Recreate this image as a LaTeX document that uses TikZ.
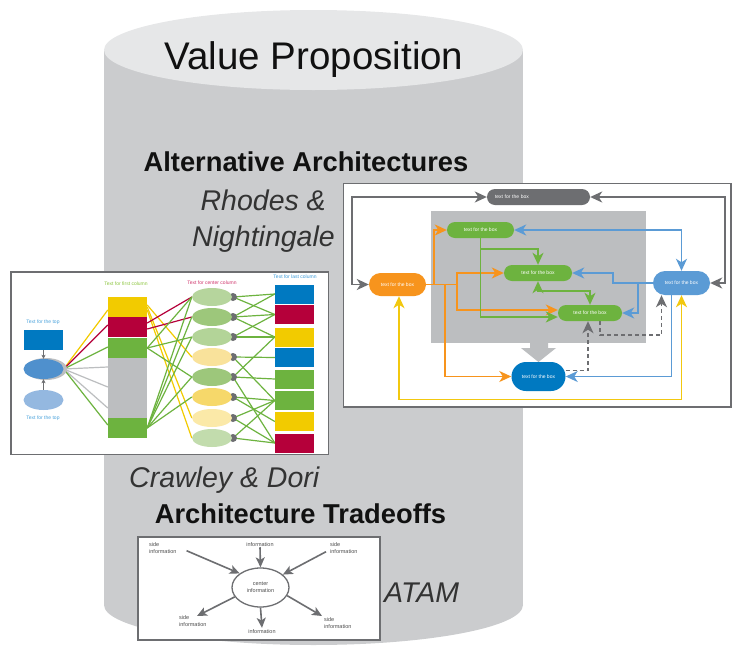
\documentclass[tikz,border=0pt]{standalone}
\usepackage{fontspec}
\setmainfont{Liberation Sans}
\usetikzlibrary{arrows.meta,shapes.geometric}

% cylinder
\definecolor{cylside}{HTML}{CBCCCE}
\definecolor{cyltop}{HTML}{E6E7E8}
\definecolor{frameline}{HTML}{6D6E71}
\definecolor{headtext}{HTML}{111111}
\definecolor{italtext}{HTML}{333333}
% flow chart
\definecolor{innergray}{HTML}{BCBEC0}
\definecolor{fgreen}{HTML}{6DB33F}
\definecolor{forange}{HTML}{F7941D}
\definecolor{flblue}{HTML}{5B9BD5}
\definecolor{fblue}{HTML}{0079C1}
\definecolor{fgray}{HTML}{6D6E71}
\definecolor{fyellow}{HTML}{F2C80F}
% column chart
\definecolor{cyel}{HTML}{F2CB00}
\definecolor{cred}{HTML}{B5003A}
\definecolor{cgreen}{HTML}{6DB33F}
\definecolor{cgray}{HTML}{BCBEC0}
\definecolor{cblue}{HTML}{0079C1}
\definecolor{dblue}{HTML}{4F90CD}
\definecolor{pblue}{HTML}{94B8E0}
\definecolor{nubgray}{HTML}{6D6E71}
\definecolor{ce1}{HTML}{B6D59D}
\definecolor{ce2}{HTML}{9DC77B}
\definecolor{ce3}{HTML}{B3D498}
\definecolor{ce4}{HTML}{F9E29B}
\definecolor{ce5}{HTML}{9DC77B}
\definecolor{ce6}{HTML}{F6D86A}
\definecolor{ce7}{HTML}{FBE9A8}
\definecolor{ce8}{HTML}{C2DCAD}
\definecolor{toptext}{HTML}{4BA3DC}
\definecolor{firsttext}{HTML}{8CC63F}
\definecolor{centertext}{HTML}{D0386E}
\definecolor{lasttext}{HTML}{3A9AD9}
% star chart
\definecolor{infotext}{HTML}{4D4D4D}

\pgfdeclarelayer{bg}
\pgfdeclarelayer{lines}
\pgfsetlayers{bg,lines,main}

\tikzset{
  heading/.style={font=\fontsize{27.3}{32}\selectfont\bfseries, text=headtext, inner sep=0},
  cite/.style={font=\fontsize{28.5}{34}\selectfont\itshape, text=italtext, inner sep=0},
  tiny/.style={font=\fontsize{5}{6}\selectfont, inner sep=0},
  cblock/.style={rectangle, inner sep=0, minimum width=39pt, minimum height=20pt},
  cell/.style={ellipse, inner sep=0, minimum width=40pt, minimum height=18pt},
  nub/.style={circle, fill=nubgray, inner sep=0, minimum size=8pt},
  fan/.style={line width=1.2pt},
  smallarr/.style={draw=fgray, line width=0.9pt, -{Stealth[length=4pt,width=4pt,inset=1pt]}},
  pill/.style={rectangle, inner sep=0, text=white, font=\fontsize{5}{6}\selectfont},
  fhead/.style={Stealth[length=12pt,width=11pt,inset=3.5pt]},
  farr/.style={line width=1.5pt, -{Stealth[length=12pt,width=11pt,inset=3.5pt]}},
  fdbl/.style={line width=1.5pt, {Stealth[length=12pt,width=11pt,inset=3.5pt]}-{Stealth[length=12pt,width=11pt,inset=3.5pt]}},
  info/.style={font=\fontsize{5.5}{7}\selectfont, text=infotext, inner sep=1pt, align=left},
  starr/.style={draw=fgray, line width=1.6pt, -{Stealth[length=10pt,width=9pt,inset=2.5pt]}},
}

\begin{document}
\begin{tikzpicture}[x=1pt,y=-1pt]
\useasboundingbox (0,0) rectangle (732,646);

% ---------- cylinder and panels ----------
\begin{pgfonlayer}{bg}
  \fill[cylside] (104,50) rectangle (523,605);
  \fill[cylside] (313.5,605) ellipse[x radius=209.5, y radius=40];
  \fill[cyltop] (313.5,50) ellipse[x radius=209.5, y radius=40];
  \draw[frameline, line width=1.6pt, fill=white] (11,272) rectangle (328.5,454.5);
  \draw[frameline, line width=1.4pt, fill=white] (343.5,183.5) rectangle (731,407);
  \draw[frameline, line width=1.4pt, fill=white] (138,537) rectangle (380,640);
  \fill[innergray] (431,211) rectangle (646,343);
  \fill[innergray] (530,343) -- (548,343) -- (548,348) -- (556,348) -- (538.5,362)
    -- (521,348) -- (530,348) -- cycle;
\end{pgfonlayer}

% ---------- headings ----------
\node[font=\fontsize{38.5}{46}\selectfont, text=headtext, inner sep=0, anchor=base] (vp) at (314,69.5) {Value Proposition};
\node[heading, anchor=base] (alt) at (306,171) {Alternative Architectures};
\node[cite, anchor=base east] (rh) at (326,210) {Rhodes \&};
\node[cite, anchor=base east] (ng) at (335,246) {Nightingale};
\node[cite, anchor=base west] (cd) at (129,487) {Crawley \& Dori};
\node[heading, anchor=base] (tr) at (300.5,523) {Architecture Tradeoffs};
\node[cite, anchor=base west] (atam) at (384,602) {ATAM};

% ---------- column chart ----------
\node[tiny, text=toptext] (tt1) at (43,322) {Text for the top};
\node[cblock, fill=cblue] (brect) at (43.5,340) {};
\node[ellipse, fill=cgray, inner sep=0, minimum width=42pt, minimum height=22pt] (cr) at (46,369) {};
\node[ellipse, fill=dblue, inner sep=0, minimum width=40pt, minimum height=20pt] (de) at (43.5,369) {};
\node[ellipse, fill=pblue, inner sep=0, minimum width=40pt, minimum height=20pt] (le) at (43.5,400) {};
\node[tiny, text=toptext] (tt2) at (43,418) {Text for the top};
\draw[smallarr] (brect) -- (de);
\draw[smallarr] (le) -- (de);

\node[tiny, text=firsttext] (t1) at (126,284) {Text for first column};
\node[tiny, text=centertext] (t2) at (212,283) {Text for center column};
\node[tiny, text=lasttext] (t3) at (295,277) {Text for last column};

\node[cblock, fill=cyel] (c1y) at (127.5,307) {};
\node[cblock, fill=cred] (c1r) at (127.5,327) {};
\node[cblock, fill=cgreen] (c1g) at (127.5,348) {};
\node[cblock, fill=cgray, minimum height=60pt] (c1x) at (127.5,388) {};
\node[cblock, fill=cgreen] (c1h) at (127.5,428) {};

\foreach \i/\yy/\c in {1/297/ce1, 2/317/ce2, 3/337/ce3, 4/357/ce4, 5/377/ce5, 6/397/ce6, 7/418/ce7, 8/438/ce8} {
  \node[nub] (n\i) at (233,\yy) {};
  \node[cell, fill=\c] (e\i) at (212,\yy) {};
}
\foreach \i/\yy/\c in {1/294/cblue, 2/314.5/cred, 3/337/cyel, 4/357.5/cblue, 5/379/cgreen, 6/400.5/cgreen, 7/421.5/cyel, 8/443/cred} {
  \node[cblock, minimum height=19pt, fill=\c] (b\i) at (294.5,\yy) {};
}

\begin{pgfonlayer}{lines}
  % fan out of the top ellipse
  \draw[fan, cyel] (de.east) -- ([yshift=-3pt]c1y.west);
  \draw[fan, cred] (de.east) -- ([yshift=2pt]c1r.west);
  \draw[fan, cgreen] (de.east) -- ([yshift=1pt]c1g.west);
  \draw[fan, cgray] (de.east) -- ([yshift=21pt]c1x.west);
  \draw[fan, cgray] (de.east) -- ([yshift=1pt]c1x.west);
  \draw[fan, cgray] (de.east) -- ([yshift=-20pt]c1x.west);
  \draw[fan, cgreen] (de.east) -- ([yshift=3pt]c1h.west);
  % first column to center column
  \draw[fan, cyel] ([yshift=2pt]c1y.east) -- (e4.west);
  \draw[fan, cyel] (c1y.east) -- (e7.west);
  \draw[fan, cyel] ([yshift=-3pt]c1y.east) -- (e8.west);
  \draw[fan, cred] ([yshift=4pt]c1r.east) -- (e1.west);
  \draw[fan, cred] ([yshift=-2pt]c1r.east) -- (e2.west);
  \draw[fan, cgreen] (c1g.east) -- (e1.west);
  \draw[fan, cgreen] (c1g.east) -- (e3.west);
  \draw[fan, cgreen] (c1g.east) -- (e5.west);
  \draw[fan, cgreen] (c1h.east) -- (e1.west);
  \draw[fan, cgreen] (c1h.east) -- (e2.west);
  \draw[fan, cgreen] (c1h.east) -- (e3.west);
  \draw[fan, cgreen] (c1h.east) -- (e5.west);
  \draw[fan, cgreen] (c1h.east) -- (e6.west);
  % center column to last column
  \foreach \a/\b in {1/1, 1/2, 2/1, 2/2, 2/3, 3/2, 3/3, 4/4, 4/6, 5/3, 5/5, 5/8, 6/6, 6/7, 7/6, 7/8, 8/6, 8/8} {
    \draw[fan, cgreen] (n\a.center) -- (b\b.west);
  }
\end{pgfonlayer}

% ---------- flow chart ----------
\node[pill, fill=fgray, rounded corners=8pt, minimum width=103pt, minimum height=16pt, text width=87pt, align=left] (tb) at (538.5,197) {text for the box};
\node[pill, fill=fgreen, rounded corners=8pt, minimum width=67pt, minimum height=16pt] (gA) at (480.5,230) {text for the box};
\node[pill, fill=fgreen, rounded corners=8pt, minimum width=68pt, minimum height=16pt] (gB) at (538,273) {text for the box};
\node[pill, fill=fgreen, rounded corners=8pt, minimum width=64pt, minimum height=16pt] (gC) at (590,313) {text for the box};
\node[pill, fill=forange, rounded corners=11.5pt, minimum width=57pt, minimum height=23pt] (orb) at (397.5,284.5) {text for the box};
\node[pill, fill=flblue, rounded corners=12pt, minimum width=57pt, minimum height=24pt] (lb) at (681.5,283) {text for the box};
\node[pill, fill=fblue, rounded corners=14.5pt, minimum width=54pt, minimum height=29pt] (bb) at (538.5,376.5) {text for the box};

\coordinate (oj) at ([xshift=31pt]orb.east);
\coordinate (ybase) at (0,399.5);

\begin{pgfonlayer}{lines}
  % gray frame loop
  \draw[fdbl, fgray] (orb.west) -- ++(-17,0) |- (tb.west);
  \draw[fdbl, fgray] (tb.east) -| ([xshift=15pt]lb.east) -- (lb.east);
  % blue links
  \draw[fdbl, flblue] (gA.east) -| (lb.north);
  \draw[farr, flblue] (lb.west) -- ++(-40,0) |- (gB.east);
  \draw[farr, flblue] ([xshift=-15pt]lb.west) |- (gC.east);
  \draw[farr, flblue] ([xshift=-10pt]lb.south) |- (bb.east);
  % orange links
  \draw[line width=1.5pt, forange] (orb.east) -- (oj);
  \draw[farr, forange] ([xshift=8pt]orb.east) |- (gA.west);
  \draw[farr, forange] (oj) |- (gB.west);
  \draw[farr, forange] (oj) |- ([yshift=3pt]gC.west);
  \draw[farr, forange] ([xshift=19pt]orb.east) |- (bb.west);
  % green links
  \draw[farr, fgreen] (gA.south) |- ([yshift=-4pt]gC.west);
  \draw[farr, fgreen] ([yshift=-11pt]gA.south) -| (gB.north);
  \draw[fdbl, fgreen] (gB.south) -- ++(0,10) -| (gC.north);
  % dashed feedback
  \draw[farr, fgray, dashed, dash pattern=on 4pt off 3pt] ([xshift=10pt]gC.south) -- ++(0,14) -| ([xshift=-20pt]lb.south);
  \draw[farr, fgray, dashed, dash pattern=on 4pt off 3pt] ([yshift=6pt]bb.east) -| ([xshift=-2pt]gC.south);
  % yellow loop
  \draw[fdbl, fyellow] ([xshift=1.5pt]orb.south) |- (lb.south |- ybase) -- (lb.south);
\end{pgfonlayer}

% ---------- star chart ----------
\node[ellipse, draw=fgray, line width=1.3pt, inner sep=0, minimum width=57pt, minimum height=39pt,
      info, align=center] (ce) at (260.5,587.5) {center\\information};
\node[info, anchor=north west] (tl) at (148,541) {side\\information};
\node[info, anchor=base] (ti) at (260,546) {information};
\node[info, anchor=north west] (trr) at (329,541) {side\\information};
\node[info, anchor=north west] (bl) at (178,614) {side\\information};
\node[info, anchor=base] (bi) at (262,633) {information};
\node[info, anchor=north west] (br) at (323,616) {side\\information};

\draw[starr] ([xshift=9pt,yshift=-3pt]tl.east) -- (ce.146);
\draw[starr] (ti.south) -- (ce.north);
\draw[starr] ([xshift=-3pt,yshift=-4pt]trr.west) -- (ce.30);
\draw[starr] (ce.200) -- ([xshift=19pt,yshift=-2pt]bl.north west);
\draw[starr] (ce.south) -- (bi.north);
\draw[starr] (ce.-17) -- ([xshift=-1pt]br.north west);

\end{tikzpicture}
\end{document}
